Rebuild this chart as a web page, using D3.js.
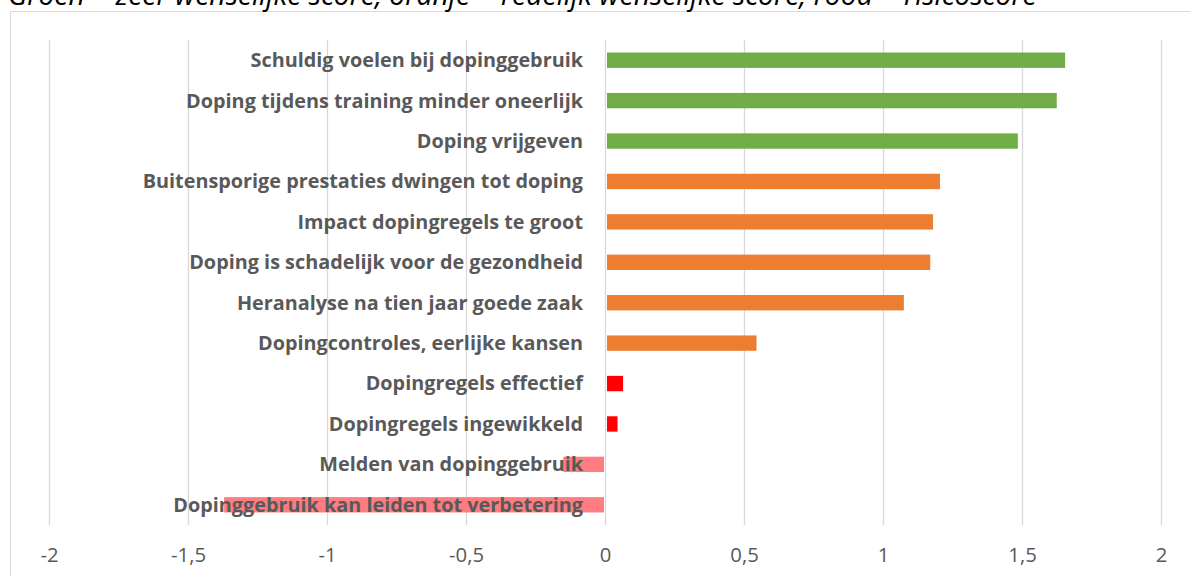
<!DOCTYPE html>
<html><head><meta charset="utf-8">
<script src="https://cdn.jsdelivr.net/npm/d3@7"></script>
<style>body{margin:0;background:#fff;} svg{display:block;}</style>
</head><body>
<svg id="c" width="1190" height="576"></svg>
<script>
const categories = [
  "Schuldig voelen bij dopinggebruik",
  "Doping tijdens training minder oneerlijk",
  "Doping vrijgeven",
  "Buitensporige prestaties dwingen tot doping",
  "Impact dopingregels te groot",
  "Doping is schadelijk voor de gezondheid",
  "Heranalyse na tien jaar goede zaak",
  "Dopingcontroles, eerlijke kansen",
  "Dopingregels effectief",
  "Dopingregels ingewikkeld",
  "Melden van dopinggebruik",
  "Dopinggebruik kan leiden tot verbetering"
];
const values = [1.655, 1.625, 1.485, 1.205, 1.18, 1.17, 1.075, 0.545, 0.065, 0.045, -0.15, -1.37];
const groups = ["groen","groen","groen","oranje","oranje","oranje","oranje","oranje","rood","rood","risico","risico"];
const groupColors = {groen:"#70ad47", oranje:"#ed7d31", rood:"#ff0000", risico:"#ff7c80"};
const tickValues = [-2,-1.5,-1,-0.5,0,0.5,1,1.5,2];
const caption = "Groen = zeer wenselijke score, oranje = redelijk wenselijke score, rood = risicoscore";

const FONT = "'Open Sans', Lato, sans-serif";
const svg = d3.select("#c");
const m = {left:49, right:1161, top:40, bottom:525};

// fit a font size so a text reaches a target width
function fitSize(text, target, weight, style) {
  const t = svg.append("text").attr("font-family",FONT).attr("font-size",20)
    .attr("font-weight",weight||"normal").attr("font-style",style||"normal").text(text);
  const w = t.node().getComputedTextLength();
  t.remove();
  return 20 * target / w;
}

svg.append("rect").attr("x",10.5).attr("y",11.5).attr("width",1200).attr("height",600)
  .attr("fill","#fff").attr("stroke","#d9d9d9").attr("stroke-width",1);

const capSize = fitSize(caption, 1029, "normal", "italic");
svg.append("text").attr("x",8).attr("y",5)
  .attr("font-family",FONT).attr("font-style","italic")
  .attr("font-size",capSize).attr("fill","#000").text(caption);

const x = d3.scaleLinear().domain([-2,2]).range([m.left,m.right]);
const y = d3.scaleBand().domain(categories).range([m.top,m.bottom]).paddingInner(0.62).paddingOuter(0.31);

const tickSize = fitSize("-1,5", 35, "normal");
const xAxis = d3.axisBottom(x).tickValues(tickValues).tickSize(-(m.bottom-m.top))
  .tickFormat(d => String(d).replace(".", ","));
const gx = svg.append("g").attr("transform",`translate(0,${m.bottom})`).call(xAxis);
gx.select(".domain").remove();
gx.selectAll(".tick line").attr("stroke","#d9d9d9").attr("stroke-width",1.3);
gx.selectAll(".tick text").attr("y",23).attr("font-family",FONT)
  .attr("font-size",tickSize).attr("fill","#595959");

svg.append("g").selectAll("rect").data(categories).join("rect")
  .attr("x",(d,i)=> values[i] >= 0 ? x(0)+2 : x(values[i]))
  .attr("width",(d,i)=> values[i] >= 0 ? x(values[i])-x(0)-2 : x(0)-x(values[i])-1)
  .attr("y",d=>y(d)).attr("height",y.bandwidth())
  .attr("fill",(d,i)=>groupColors[groups[i]]);

const labSize = fitSize(categories[11], 410, "bold");
svg.append("g").selectAll("text").data(categories).join("text")
  .attr("x",x(0)-22).attr("y",d=>y(d)+y.bandwidth()/2).attr("dy","0.35em")
  .attr("text-anchor","end").attr("font-family",FONT)
  .attr("font-weight","bold").attr("font-size",labSize).attr("fill","#595959")
  .text(d=>d);
</script>
</body></html>
